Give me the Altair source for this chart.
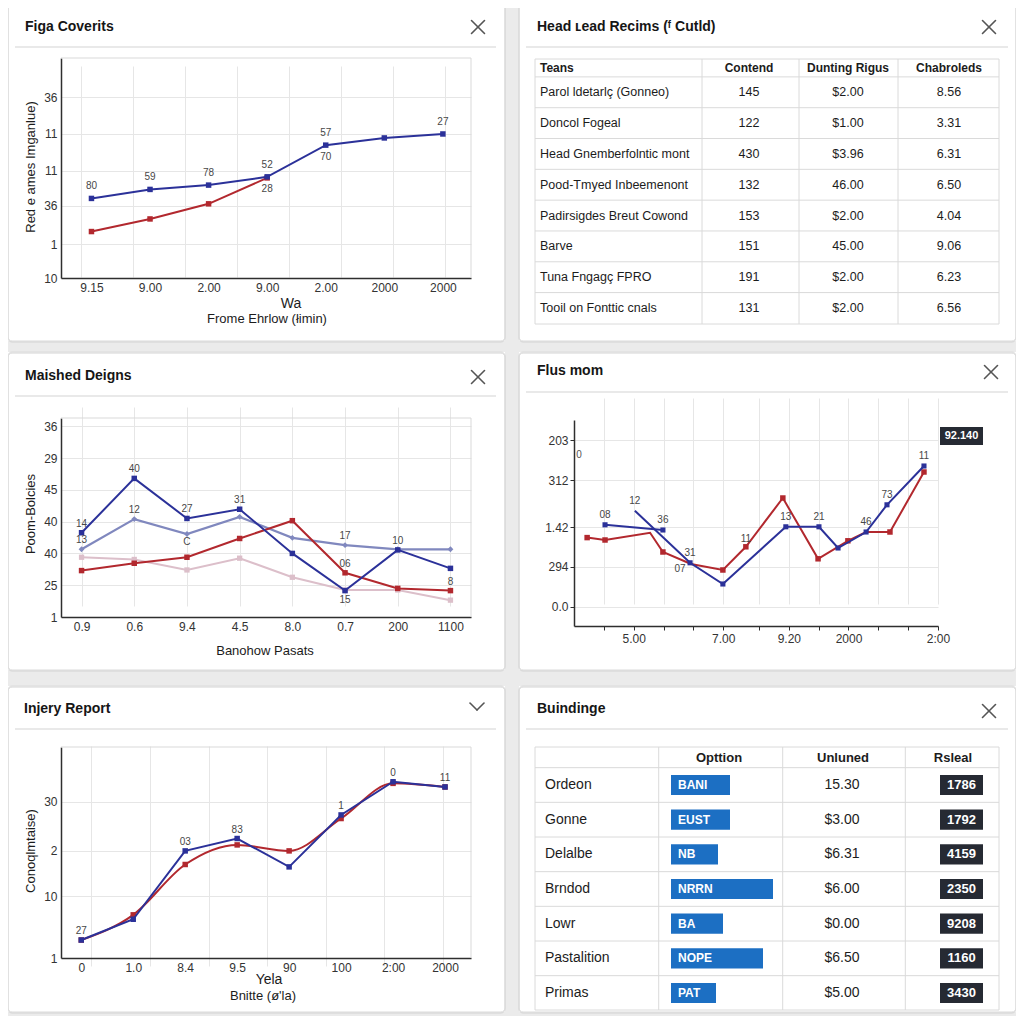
import altair as alt
import pandas as pd

FONT = "Liberation Sans"
M = 8
W = 1008
H = 1008

NAVY = "#2b3199"
RED = "#b2282e"
SLATE = "#8088be"
PINK = "#dcbfca"
BLUE_BAR = "#1c6fc3"
BADGE = "#262a33"
GRID = "#e6e6e6"
AXISC = "#2e2e2e"
TXT = "#1c1c1c"
LABC = "#474747"
GUTTER = "#ebebeb"
BORDER = "#dadada"
HLINE = "#e2e2e2"
TLINE = "#d9d9d9"

# ------------------------------------------------------------------ DATA
# Panel 1 "Figa Coverits"
p1_title = "Figa Coverits"
p1_x_vals = [0, 1, 2, 3, 4, 5, 6]
p1_x_labels = ["9.15", "9.00", "2.00", "9.00", "2.00", "2000", "2000"]
p1_y_vals = [0, 0.94, 2.01, 2.98, 4.0, 5.02]
p1_y_labels = ["10", "1", "36", "11", "11", "36"]
p1_blue = [2.21, 2.46, 2.58, 2.81, 3.69, 3.89, 4.0]
p1_red = [1.29, 1.64, 2.06, 2.78]
p1_blue_above = ["80", "59", "78", "52", "57", "", "27"]
p1_blue_below = ["", "", "", "28", "70", "", ""]
p1_y_title = "Red e ames Imganlue)"
p1_x_title = ["Wa", "Frome Ehrlow (łimin)"]

# Panel 2 table
p2_title = "Head ʟead Recims (ᶠ Cutld)"
p2_headers = ["Teans", "Contend", "Dunting Rigus", "Chabroleds"]
p2_teams = ["Parol ldetarlç (Gonneo)", "Doncol Fogeal", "Head Gnemberfolntic mont",
            "Pood-Tmyed Inbeemenont", "Padirsigdes Breut Cowond", "Barve",
            "Tuna Fngagç FPRO", "Tooil on Fonttic cnals"]
p2_contend = ["145", "122", "430", "132", "153", "151", "191", "131"]
p2_dunting = ["$2.00", "$1.00", "$3.96", "46.00", "$2.00", "45.00", "$2.00", "$2.00"]
p2_chab = ["8.56", "3.31", "6.31", "6.50", "4.04", "9.06", "6.23", "6.56"]

# Panel 3 "Maished Deigns"
p3_title = "Maished Deigns"
p3_x_vals = [0, 1, 2, 3, 4, 5, 6, 7]
p3_x_labels = ["0.9", "0.6", "9.4", "4.5", "8.0", "0.7", "200", "1100"]
p3_y_vals = [0, 1, 2, 3, 4, 5, 6]
p3_y_labels = ["1", "25", "40", "40", "45", "29", "36"]
p3_navy = [2.65, 4.36, 3.10, 3.39, 2.0, 0.83, 2.11, 1.53]
p3_slate = [2.13, 3.08, 2.61, 3.15, 2.49, 2.26, 2.13, 2.13]
p3_red = [1.46, 1.69, 1.88, 2.47, 3.03, 1.39, 0.90, 0.83]
p3_pink = [1.88, 1.81, 1.48, 1.85, 1.25, 0.85, 0.85, 0.53]
p3_navy_above = ["14", "40", "27", "31", "", "", "10", ""]
p3_navy_below = ["", "", "", "", "", "15", "", ""]
p3_slate_above = ["13", "12", "", "", "", "17", "", ""]
p3_slate_below = ["", "", "C", "", "", "", "", ""]
p3_red_above = ["", "", "", "", "", "06", "", "8"]
p3_y_title = "Poom-Bolcies"
p3_x_title = "Banohow Pasats"

# Panel 4 "Flus mom"
p4_title = "Flus mom"
p4_x_vals = [1, 2, 3, 4, 5, 6.2, 7.2, 8.2, 9.2, 10.2, 11.2, 12.2]
p4_x_labels = ["", "5.00", "", "", "7.00", "", "9.20", "", "2000", "", "", "2:00"]
p4_y_vals = [0.48, 1.48, 2.47, 3.65, 4.65]
p4_y_labels = ["0.0", "294", "1.42", "312", "203"]
p4_red_x = [0.44, 1.04, 2.55, 2.98, 3.92, 4.99, 5.76, 7.0, 8.18, 9.18, 9.79, 10.59, 11.73]
p4_red_y = [2.21, 2.15, 2.33, 1.85, 1.55, 1.40, 1.98, 3.2, 1.68, 2.13, 2.35, 2.35, 3.85]
p4_red_marks = [1, 1, 0, 1, 0, 1, 1, 1, 1, 1, 0, 1, 1]
p4_red_labels_above = ["", "", "", "", "", "", "11", "", "", "", "", "", ""]
p4_red_labels_left = ["", "", "", "", "07", "", "", "", "", "", "", "", ""]
p4_blue1_x = [1.04, 2.98]
p4_blue1_y = [2.53, 2.40]
p4_blue1_labels = ["08", "36"]
p4_blue2_x = [2.04, 3.89, 4.99, 7.10, 8.21, 8.85, 9.79, 10.49, 11.73]
p4_blue2_y = [2.88, 1.58, 1.05, 2.48, 2.48, 1.95, 2.35, 3.03, 4.0]
p4_blue2_marks = [0, 1, 1, 1, 1, 1, 1, 1, 1]
p4_blue2_labels = ["12", "31", "", "13", "21", "", "46", "73", "11"]
p4_badge = "92.140"

# Panel 5 "Injery Report"
p5_title = "Injery Report"
p5_x_vals = [0, 1, 2, 3, 4, 5, 6, 7]
p5_x_labels = ["0", "1.0", "8.4", "9.5", "90", "100", "2:00", "2000"]
p5_y_vals = [0, 1.55, 2.68, 3.91]
p5_y_labels = ["1", "10", "2", "30"]
p5_blue = [0.45, 0.97, 2.68, 2.99, 2.28, 3.58, 4.41, 4.28]
p5_red = [0.45, 1.08, 2.34, 2.83, 2.68, 3.49, 4.37, 4.28]
p5_blue_above = ["27", "", "03", "83", "", "1", "0", "11"]
p5_y_title = "Conoqlmtaise)"
p5_x_title = ["Yela", "Bnitte (ø'la)"]

# Panel 6 table
p6_title = "Buindinge"
p6_headers = ["Opttion", "Unluned", "Rsleal"]
p6_names = ["Ordeon", "Gonne", "Delalbe", "Brndod", "Lowr", "Pastalition", "Primas"]
p6_codes = ["BANI", "EUST", "NB", "NRRN", "BA", "NOPE", "PAT"]
p6_bar = [59, 59, 47, 102, 52, 92, 45]
p6_unluned = ["15.30", "$3.00", "$6.31", "$6.00", "$0.00", "$6.50", "$5.00"]
p6_rsleal = ["1786", "1792", "4159", "2350", "9208", "1160", "3430"]

# ------------------------------------------------------------------ LAYOUT (page px)
CARDS = [(8, 2, 505, 341), (519, 2, 1016, 341), (8, 352, 505, 670),
         (519, 352, 1016, 670), (8, 686, 505, 1012), (519, 686, 1016, 1012)]
GUTTERS = [(0, 341, 1024, 352), (0, 670, 1024, 686), (505, 0, 519, 1024), (0, 1012, 1024, 1024)]
HEADLINES = [(15, 496, 47), (526, 1008, 47), (15, 496, 396), (526, 1008, 392), (15, 496, 729), (526, 1008, 729)]
TITLES = [(p1_title, 25, 27), (p2_title, 537, 27), (p3_title, 25, 376),
          (p4_title, 537, 371), (p5_title, 24, 709), (p6_title, 537, 709)]
CLOSES = [(478, 27), (989, 27), (478, 377), (991, 372), (989, 711)]
CHEVRON = (477, 707)

DUMMY = alt.Data(values=[{"d": 0}])
layers = []


def P(v):
    return v - M


def deco_rect(x1, y1, x2, y2, fill=None, stroke=None, sw=1.0, cr=0):
    kw = dict(cornerRadius=cr)
    if fill:
        kw["fill"] = fill
    else:
        kw["fillOpacity"] = 0
    if stroke:
        kw["stroke"] = stroke
        kw["strokeWidth"] = sw
    layers.append(alt.Chart(DUMMY).mark_rect(**kw).encode(
        x=alt.value(P(x1)), x2=alt.value(P(x2)), y=alt.value(P(y1)), y2=alt.value(P(y2))))


def deco_line(x1, y1, x2, y2, color, sw=1.0, cap="butt"):
    layers.append(alt.Chart(DUMMY).mark_rule(color=color, strokeWidth=sw, strokeCap=cap).encode(
        x=alt.value(P(x1)), y=alt.value(P(y1)), x2=alt.value(P(x2)), y2=alt.value(P(y2))))


def deco_text(s, x, y, size=12, weight="normal", color=TXT, align="left", angle=None):
    kw = dict(text=s, font=FONT, fontSize=size, fontWeight=weight, color=color,
              align=align, baseline="middle")
    if angle is not None:
        kw["angle"] = angle
    layers.append(alt.Chart(DUMMY).mark_text(**kw).encode(x=alt.value(P(x)), y=alt.value(P(y))))


def lab_expr(vals, labels):
    return ("[" + ",".join("'" + l + "'" for l in labels) + "][indexof([" +
            ",".join(repr(v) for v in vals) + "], datum.value)]")


def plot_frame(xdom, xrng, ydom, yrng, xvals, xlabels, yvals, ylabels, frame=True, ticks=False):
    xs = alt.Scale(domain=xdom, range=[P(xrng[0]), P(xrng[1])], nice=False, zero=False)
    ys = alt.Scale(domain=ydom, range=[P(yrng[0]), P(yrng[1])], nice=False, zero=False)
    common = dict(grid=True, gridColor=GRID, gridWidth=1, domainColor=AXISC, domainWidth=1.5,
                  labelFlush=False, labelOverlap=False, title=None, labelFont=FONT,
                  labelFontSize=12, labelColor="#333333")
    xa = dict(orient="bottom", offset=P(yrng[0]) - H, values=xvals,
              labelExpr=lab_expr(xvals, xlabels), **common)
    ya = dict(orient="left", offset=-P(xrng[0]), values=yvals,
              labelExpr=lab_expr(yvals, ylabels), **common)
    if ticks:
        xa.update(ticks=True, tickSize=4, tickColor=AXISC, labelPadding=3)
        ya.update(ticks=True, tickSize=4, tickColor=AXISC, labelPadding=2)
    else:
        xa.update(ticks=False, labelPadding=4)
        ya.update(ticks=False, labelPadding=4)
    top = pd.DataFrame({"xa": [xdom[0]], "xb": [xdom[1]], "yt": [ydom[1]]})
    layers.append(alt.Chart(top).mark_rule(color=TLINE, strokeWidth=1, opacity=1 if frame else 0).encode(
        x=alt.X("xa:Q", scale=xs, axis=alt.Axis(**xa)), x2="xb:Q",
        y=alt.Y("yt:Q", scale=ys, axis=alt.Axis(**ya))))
    if frame:
        right = pd.DataFrame({"xr": [xdom[1]], "ya": [ydom[0]], "yb": [ydom[1]]})
        layers.append(alt.Chart(right).mark_rule(color=TLINE, strokeWidth=1).encode(
            x=alt.X("xr:Q", scale=xs, axis=None), y=alt.Y("ya:Q", scale=ys, axis=None), y2="yb:Q"))
    return xs, ys


def series(xv, yv, color, xs, ys, shape="square", size=30, width=2.0, interp="linear", marks=None):
    df = pd.DataFrame({"x": xv, "y": yv, "i": list(range(len(xv)))})
    enc = dict(x=alt.X("x:Q", scale=xs, axis=None), y=alt.Y("y:Q", scale=ys, axis=None))
    layers.append(alt.Chart(df).mark_line(color=color, strokeWidth=width, interpolate=interp).encode(
        order="i:Q", **enc))
    mdf = df if marks is None else df[[bool(m) for m in marks]]
    layers.append(alt.Chart(mdf).mark_point(shape=shape, filled=True, size=size, color=color,
                                            opacity=1).encode(**enc))


def point_labels(xv, yv, texts, xs, ys, dy=-10, dx=0, size=10):
    rows = [(a, b, t) for a, b, t in zip(xv, yv, texts) if t]
    if not rows:
        return
    df = pd.DataFrame(rows, columns=["x", "y", "t"])
    layers.append(alt.Chart(df).mark_text(dy=dy, dx=dx, fontSize=size, font=FONT, color=LABC).encode(
        x=alt.X("x:Q", scale=xs, axis=None), y=alt.Y("y:Q", scale=ys, axis=None), text="t:N"))


# ------------------------------------------------------------------ CARDS / HEADERS
for g in GUTTERS:
    deco_rect(*g, fill=GUTTER)
for c in CARDS:
    deco_rect(c[0], c[1] + 1, c[2], c[3] + 1, stroke="#d4d4d4", sw=1, cr=4)
    deco_rect(*c, stroke=BORDER, sw=1, cr=4)
for x1, x2, y in HEADLINES:
    deco_line(x1, y, x2, y, HLINE, 1.5)
for s, x, y in TITLES:
    deco_text(s, x, y, size=14, weight="bold", color="#161616")
for cx, cy in CLOSES:
    deco_line(cx - 6.5, cy - 6.5, cx + 6.5, cy + 6.5, "#555555", 1.6, "round")
    deco_line(cx - 6.5, cy + 6.5, cx + 6.5, cy - 6.5, "#555555", 1.6, "round")
deco_line(CHEVRON[0] - 7, CHEVRON[1] - 4, CHEVRON[0], CHEVRON[1] + 3, "#555555", 1.6, "round")
deco_line(CHEVRON[0], CHEVRON[1] + 3, CHEVRON[0] + 7, CHEVRON[1] - 4, "#555555", 1.6, "round")

# ------------------------------------------------------------------ PANEL 1
xs, ys = plot_frame([-0.52, 6.48], [61, 471], [0, 6.11], [278, 58],
                    p1_x_vals, p1_x_labels, p1_y_vals, p1_y_labels)
series(p1_x_vals[:len(p1_red)], p1_red, RED, xs, ys)
series(p1_x_vals, p1_blue, NAVY, xs, ys)
point_labels(p1_x_vals, p1_blue, p1_blue_above, xs, ys, dy=-12)
point_labels(p1_x_vals, p1_blue, p1_blue_below, xs, ys, dy=12)
deco_text(p1_y_title, 31, 167, size=13, angle=270, align="center")
deco_text(p1_x_title[0], 291, 304, size=14, align="center")
deco_text(p1_x_title[1], 267, 319, size=13, align="center")

# ------------------------------------------------------------------ PANEL 2 (table)
deco_rect(535, 59, 999, 324, stroke=BORDER, sw=1)
for vx in [702, 799, 898]:
    deco_line(vx, 59, vx, 324, BORDER, 1)
rs2 = alt.Scale(domain=[0, 7], range=[P(92.3), P(308)], nice=False, zero=False)
bdf2 = pd.DataFrame({"b": [k - 0.5 for k in range(8)]})
layers.append(alt.Chart(bdf2).mark_rule(color=BORDER, strokeWidth=1).encode(
    x=alt.value(P(535)), x2=alt.value(P(999)), y=alt.Y("b:Q", scale=rs2, axis=None)))
deco_text(p2_headers[0], 540, 68, size=12, weight="bold")
deco_text(p2_headers[1], 749, 68, size=12, weight="bold", align="center")
deco_text(p2_headers[2], 848, 68, size=12, weight="bold", align="center")
deco_text(p2_headers[3], 949, 68, size=12, weight="bold", align="center")
t2 = pd.DataFrame({"r": list(range(len(p2_teams))), "team": p2_teams, "c": p2_contend,
                   "d": p2_dunting, "h": p2_chab})
for fld, xp, al in [("team", 540, "left"), ("c", 749, "center"), ("d", 848, "center"), ("h", 949, "center")]:
    layers.append(alt.Chart(t2).mark_text(align=al, baseline="middle", font=FONT, fontSize=12.5,
                                          color=TXT).encode(
        x=alt.value(P(xp)), y=alt.Y("r:Q", scale=rs2, axis=None), text=f"{fld}:N"))

# ------------------------------------------------------------------ PANEL 3
xs, ys = plot_frame([-0.39, 7.39], [61, 471], [0, 6.26], [617, 418],
                    p3_x_vals, p3_x_labels, p3_y_vals, p3_y_labels)
series(p3_x_vals, p3_pink, PINK, xs, ys, shape="square", size=28)
series(p3_x_vals, p3_slate, SLATE, xs, ys, shape="diamond", size=34, width=2.2)
series(p3_x_vals, p3_red, RED, xs, ys)
series(p3_x_vals, p3_navy, NAVY, xs, ys)
point_labels(p3_x_vals, p3_navy, p3_navy_above, xs, ys, dy=-9)
point_labels(p3_x_vals, p3_navy, p3_navy_below, xs, ys, dy=9)
point_labels(p3_x_vals, p3_slate, p3_slate_above, xs, ys, dy=-9)
point_labels(p3_x_vals, p3_slate, p3_slate_below, xs, ys, dy=8)
point_labels(p3_x_vals, p3_red, p3_red_above, xs, ys, dy=-9)
deco_text(p3_y_title, 31, 514, size=13, angle=270, align="center")
deco_text(p3_x_title, 265, 651, size=13, align="center")

# ------------------------------------------------------------------ PANEL 4
xs, ys = plot_frame([0, 12.2], [574, 938], [0, 5.15], [626, 420],
                    p4_x_vals, p4_x_labels, p4_y_vals, p4_y_labels, frame=False, ticks=True)
series(p4_red_x, p4_red_y, RED, xs, ys, marks=p4_red_marks)
series(p4_blue1_x, p4_blue1_y, NAVY, xs, ys, size=26)
series(p4_blue2_x, p4_blue2_y, NAVY, xs, ys, size=26, marks=p4_blue2_marks)
point_labels(p4_blue1_x, p4_blue1_y, p4_blue1_labels, xs, ys, dy=-10)
point_labels(p4_blue2_x, p4_blue2_y, p4_blue2_labels, xs, ys, dy=-10)
point_labels(p4_red_x, p4_red_y, p4_red_labels_above, xs, ys, dy=-8)
point_labels(p4_red_x, p4_red_y, p4_red_labels_left, xs, ys, dy=5, dx=-11)
deco_text("0", 579, 455, size=10, color="#555555", align="center")
deco_rect(940, 427, 983, 445, fill=BADGE)
deco_text(p4_badge, 961.5, 436, size=11, weight="bold", color="white", align="center")

# ------------------------------------------------------------------ PANEL 5
xs, ys = plot_frame([-0.39, 7.5], [61, 471], [0, 5.28], [958, 747],
                    p5_x_vals, p5_x_labels, p5_y_vals, p5_y_labels)
series(p5_x_vals, p5_red, RED, xs, ys, interp="monotone")
series(p5_x_vals, p5_blue, NAVY, xs, ys)
point_labels(p5_x_vals, p5_blue, p5_blue_above, xs, ys, dy=-9)
deco_text(p5_y_title, 31, 851, size=13, angle=270, align="center")
deco_text(p5_x_title[0], 269, 980, size=14, align="center")
deco_text(p5_x_title[1], 263, 996, size=13, align="center")

# ------------------------------------------------------------------ PANEL 6 (table)
deco_rect(535, 747, 999, 1010, stroke=BORDER, sw=1)
for vx in [658.7, 782.7, 905.3]:
    deco_line(vx, 747, vx, 1010, BORDER, 1)
rs6 = alt.Scale(domain=[0, 6], range=[P(785), P(993)], nice=False, zero=False)
bdf6 = pd.DataFrame({"b": [k - 0.5 for k in range(7)]})
layers.append(alt.Chart(bdf6).mark_rule(color=BORDER, strokeWidth=1).encode(
    x=alt.value(P(535)), x2=alt.value(P(999)), y=alt.Y("b:Q", scale=rs6, axis=None)))
deco_text(p6_headers[0], 719, 758, size=13, weight="bold", align="center")
deco_text(p6_headers[1], 843, 758, size=13, weight="bold", align="center")
deco_text(p6_headers[2], 953, 758, size=13, weight="bold", align="center")
t6 = pd.DataFrame({"r": list(range(len(p6_names))), "name": p6_names, "code": p6_codes,
                   "bar": p6_bar, "unl": p6_unluned, "rs": p6_rsleal})
bs = alt.Scale(domain=[0, 100], range=[P(671), P(771)], nice=False, zero=False)
t6c = alt.Chart(t6).transform_calculate(y0="datum.r - 0.29", y1="datum.r + 0.29", z="0")
layers.append(t6c.mark_rect(color=BLUE_BAR).encode(
    x=alt.X("z:Q", scale=bs, axis=None), x2="bar:Q",
    y=alt.Y("y0:Q", scale=rs6, axis=None), y2="y1:Q"))
layers.append(t6c.mark_rect(color=BADGE).encode(
    x=alt.value(P(940)), x2=alt.value(P(983)),
    y=alt.Y("y0:Q", scale=rs6, axis=None), y2="y1:Q"))
layers.append(alt.Chart(t6).mark_text(align="left", baseline="middle", font=FONT, fontSize=14,
                                      color=TXT).encode(
    x=alt.value(P(545)), y=alt.Y("r:Q", scale=rs6, axis=None), text="name:N"))
layers.append(alt.Chart(t6).mark_text(align="left", baseline="middle", font=FONT, fontSize=12,
                                      fontWeight="bold", color="white").encode(
    x=alt.value(P(678)), y=alt.Y("r:Q", scale=rs6, axis=None), text="code:N"))
layers.append(alt.Chart(t6).mark_text(align="center", baseline="middle", font=FONT, fontSize=14,
                                      color=TXT).encode(
    x=alt.value(P(842)), y=alt.Y("r:Q", scale=rs6, axis=None), text="unl:N"))
layers.append(alt.Chart(t6).mark_text(align="center", baseline="middle", font=FONT, fontSize=13,
                                      fontWeight="bold", color="white").encode(
    x=alt.value(P(961.5)), y=alt.Y("r:Q", scale=rs6, axis=None), text="rs:N"))

# ------------------------------------------------------------------ ASSEMBLE
chart = alt.layer(*layers).resolve_scale(x="independent", y="independent").resolve_axis(
    x="independent", y="independent").properties(
    width=W, height=H, padding=0, background="white",
    autosize=alt.AutoSizeParams(type="none")).configure_view(strokeWidth=0)

chart.save("out.html", embed_options={"renderer": "svg", "actions": False})
